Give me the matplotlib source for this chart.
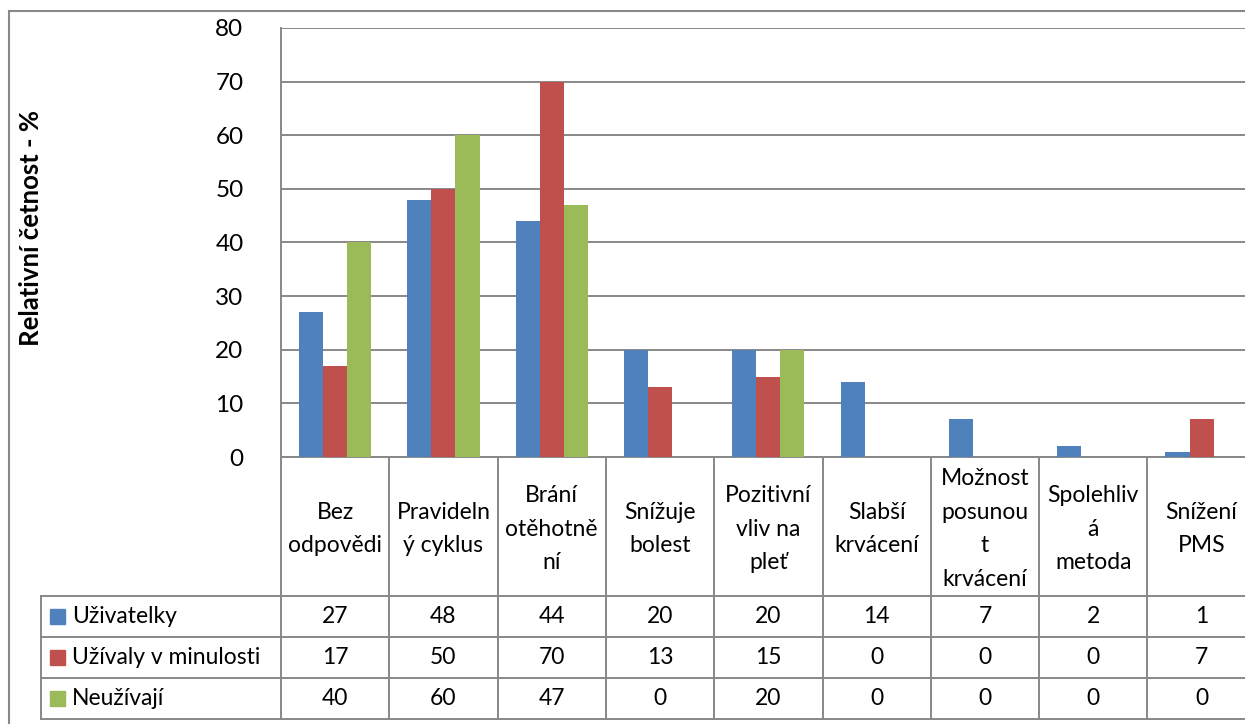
import matplotlib.pyplot as plt
import matplotlib.transforms as mtransforms
from matplotlib.patches import Rectangle
import numpy as np

categories = ["Bez\nodpovědi", "Pravideln\ný cyklus", "Brání\notěhotně\nní",
              "Snížuje\nbolest", "Pozitivní\nvliv na\npleť", "Slabší\nkrvácení",
              "Možnost\nposunou\nt\nkrvácení", "Spolehliv\ná\nmetoda", "Snížení\nPMS"]
series_names = ["Uživatelky", "Užívaly v minulosti", "Neužívají"]
uzivatelky = [27, 48, 44, 20, 20, 14, 7, 2, 1]
minulost = [17, 50, 70, 13, 15, 0, 0, 0, 7]
neuzivaji = [40, 60, 47, 0, 20, 0, 0, 0, 0]
colors = ["#4F81BD", "#C0504D", "#9BBB59"]

plt.rcParams["font.family"] = ["Lato", "DejaVu Sans"]
FS = 16.5
GRID = "#888888"

W, H = 1245, 724
fig = plt.figure(figsize=(W / 100, H / 100), dpi=100)

# plot area in pixels (right side runs past the picture, as in the source)
left_px, top_px, bottom_px, cat_w = 281, 28, 457, 108.3
n = len(categories)
ax = fig.add_axes([left_px / W, (H - bottom_px) / H, n * cat_w / W, (bottom_px - top_px) / H])

x = np.arange(n)
bw = 1 / 4.5
for i, vals in enumerate([uzivatelky, minulost, neuzivaji]):
    ax.bar(x + (i - 1) * bw, vals, bw, color=colors[i], zorder=3)

ax.set_xlim(-0.5, n - 0.5)
ax.set_ylim(0, 80)
ax.set_yticks(range(0, 81, 10))
ax.yaxis.grid(True, color=GRID, lw=1.4, zorder=0)
ax.set_xticks([])
ax.tick_params(axis="y", length=0, pad=27, labelsize=17.5)
for s in ["top", "right"]:
    ax.spines[s].set_visible(False)
ax.spines["left"].set_color(GRID)
ax.spines["bottom"].set_color(GRID)
ax.spines["left"].set_linewidth(1.4)
ax.spines["bottom"].set_linewidth(1.4)

fig.text(31 / W, (H - 228) / H, "Relativní četnost - %", rotation=90, fontsize=18.5,
         fontweight="bold", ha="center", va="center")

# data table below the axis, x in data units, y in axes fraction
tr = mtransforms.blended_transform_factory(ax.transData, ax.transAxes)
def fy(ypx):
    return (bottom_px - ypx) / (bottom_px - top_px)

table_left = -0.5 - (left_px - 41) / cat_w
rows_px = [596, 637, 678, 719]
xr = n - 0.5 + 0.5
kw = dict(transform=tr, clip_on=False, color=GRID, lw=1.4)
for ry in rows_px:
    ax.plot([table_left, xr], [fy(ry), fy(ry)], **kw)
ax.plot([table_left, table_left], [fy(596), fy(719)], **kw)
for k in range(n + 1):
    ax.plot([k - 0.5, k - 0.5], [0, fy(719)], **kw)

for k, lab in enumerate(categories):
    ax.text(k, fy(529), lab, transform=tr, ha="center", va="center",
            fontsize=FS, linespacing=1.75)

for r, (name, vals) in enumerate(zip(series_names, [uzivatelky, minulost, neuzivaji])):
    yc = fy((rows_px[r] + rows_px[r + 1]) / 2)
    sq = 15 / cat_w
    ax.add_patch(Rectangle((table_left + 9 / cat_w, yc - 7.5 / 429), sq, 15 / 429,
                           transform=tr, clip_on=False, color=colors[r]))
    ax.text(table_left + 31 / cat_w, yc, name, transform=tr, ha="left", va="center",
            fontsize=FS)
    for k, v in enumerate(vals):
        ax.text(k, yc, str(v), transform=tr, ha="center", va="center", fontsize=FS)

# outer chart border
fig.patches.append(Rectangle((9 / W, -0.1), 1.2, (H - 11) / H + 0.1, transform=fig.transFigure,
                             fill=False, edgecolor=GRID, lw=1.5))

fig.savefig("out.png", dpi=100)
